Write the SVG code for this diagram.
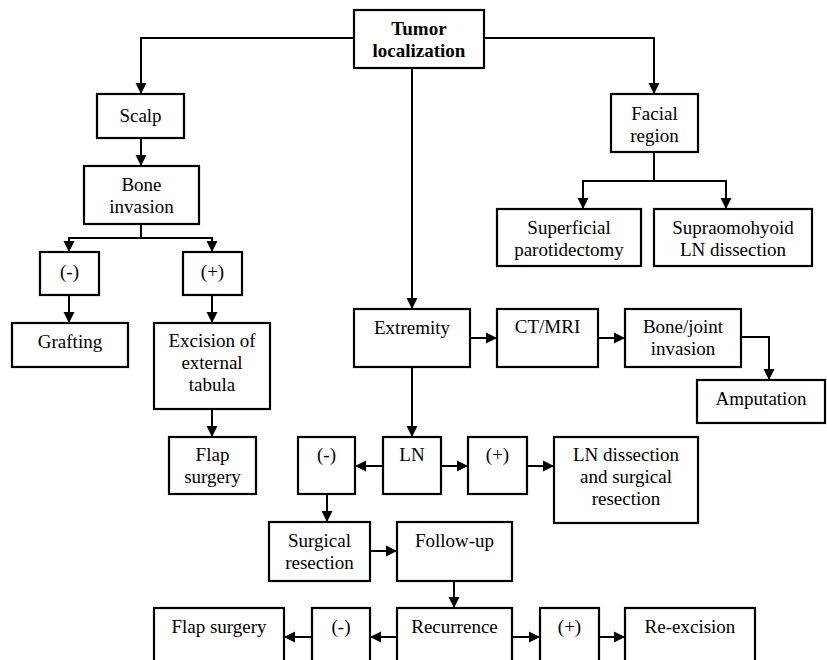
<svg xmlns="http://www.w3.org/2000/svg" width="827" height="660" viewBox="0 0 827 660" font-family="Liberation Serif, Times New Roman, Times, DejaVu Serif, serif">
<style>
.box{fill:#fff;stroke:#000;stroke-width:2.2}
text{font-family:"Liberation Serif","Times New Roman",Times,"DejaVu Serif",serif;font-size:19px;text-anchor:middle;fill:#000}
.b{font-weight:bold}
.c{fill:none;stroke:#000;stroke-width:2}
</style>
<defs>
<marker id="ah" markerUnits="userSpaceOnUse" markerWidth="12" markerHeight="12" refX="11" refY="6" orient="auto">
<path d="M0,0.5 L11,6 L0,11.5 z" fill="#000"/>
</marker>
</defs>
<rect width="827" height="660" fill="#fff"/>
<g id="connectors">
<polyline class="c" points="354,38 141,38 141,94" marker-end="url(#ah)"/>
<polyline class="c" points="484,38 654,38 654,94" marker-end="url(#ah)"/>
<line class="c" x1="412" y1="68" x2="412" y2="309" marker-end="url(#ah)"/>
<line class="c" x1="141" y1="138" x2="141" y2="166" marker-end="url(#ah)"/>
<line class="c" x1="141" y1="224" x2="141" y2="238"/>
<polyline class="c" points="69,252 69,238 212,238 212,252"/>
<line class="c" x1="69" y1="240" x2="69" y2="252" marker-end="url(#ah)"/>
<line class="c" x1="212" y1="240" x2="212" y2="252" marker-end="url(#ah)"/>
<line class="c" x1="69" y1="295" x2="69" y2="323" marker-end="url(#ah)"/>
<line class="c" x1="212" y1="295" x2="212" y2="323" marker-end="url(#ah)"/>
<line class="c" x1="212" y1="409" x2="212" y2="437" marker-end="url(#ah)"/>
<line class="c" x1="654" y1="152" x2="654" y2="181"/>
<polyline class="c" points="583,209 583,181 726,181 726,209"/>
<line class="c" x1="583" y1="190" x2="583" y2="209" marker-end="url(#ah)"/>
<line class="c" x1="726" y1="190" x2="726" y2="209" marker-end="url(#ah)"/>
<line class="c" x1="470" y1="338" x2="497" y2="338" marker-end="url(#ah)"/>
<line class="c" x1="598" y1="338" x2="625" y2="338" marker-end="url(#ah)"/>
<polyline class="c" points="741,337 769,337 769,380" marker-end="url(#ah)"/>
<line class="c" x1="412" y1="367" x2="412" y2="437" marker-end="url(#ah)"/>
<line class="c" x1="383" y1="466" x2="355" y2="466" marker-end="url(#ah)"/>
<line class="c" x1="441" y1="466" x2="468" y2="466" marker-end="url(#ah)"/>
<line class="c" x1="527" y1="466" x2="554" y2="466" marker-end="url(#ah)"/>
<line class="c" x1="327" y1="494" x2="327" y2="522" marker-end="url(#ah)"/>
<line class="c" x1="370" y1="551" x2="397" y2="551" marker-end="url(#ah)"/>
<line class="c" x1="454" y1="581" x2="454" y2="608" marker-end="url(#ah)"/>
<line class="c" x1="397" y1="637" x2="370" y2="637" marker-end="url(#ah)"/>
<line class="c" x1="312" y1="637" x2="284" y2="637" marker-end="url(#ah)"/>
<line class="c" x1="512" y1="637" x2="540" y2="637" marker-end="url(#ah)"/>
<line class="c" x1="599" y1="637" x2="625" y2="637" marker-end="url(#ah)"/>
</g>
<g id="tumor"><rect class="box" x="354" y="10" width="130" height="58"/><text class="b" x="419" y="34.5">Tumor</text><text class="b" x="419" y="56.5">localization</text></g>
<g id="scalp"><rect class="box" x="97" y="94" width="87" height="44"/><text x="140.5" y="122">Scalp</text></g>
<g id="bone-invasion"><rect class="box" x="84" y="166" width="115" height="58"/><text x="141.5" y="191">Bone</text><text x="141.5" y="213">invasion</text></g>
<g id="scalp-neg"><rect class="box" x="40" y="252" width="59" height="43"/><text x="69.5" y="278">(-)</text></g>
<g id="scalp-pos"><rect class="box" x="183" y="252" width="59" height="43"/><text x="212.5" y="278">(+)</text></g>
<g id="grafting"><rect class="box" x="12" y="323" width="116" height="44"/><text x="70" y="348">Grafting</text></g>
<g id="excision"><rect class="box" x="154" y="323" width="116" height="86"/><text x="212" y="347">Excision of</text><text x="212" y="369">external</text><text x="212" y="391">tabula</text></g>
<g id="flap-surgery-1"><rect class="box" x="169" y="437" width="87" height="57"/><text x="212.5" y="461">Flap</text><text x="212.5" y="483">surgery</text></g>
<g id="facial"><rect class="box" x="611" y="94" width="87" height="58"/><text x="654.5" y="120">Facial</text><text x="654.5" y="142">region</text></g>
<g id="superficial"><rect class="box" x="497" y="209" width="144" height="57"/><text x="569" y="234">Superficial</text><text x="569" y="256">parotidectomy</text></g>
<g id="supraomohyoid"><rect class="box" x="654" y="209" width="158" height="57"/><text x="733" y="234">Supraomohyoid</text><text x="733" y="256">LN dissection</text></g>
<g id="extremity"><rect class="box" x="354" y="309" width="116" height="58"/><text x="412" y="334">Extremity</text></g>
<g id="ctmri"><rect class="box" x="497" y="309" width="101" height="58"/><text x="547.5" y="333">CT/MRI</text></g>
<g id="bone-joint"><rect class="box" x="625" y="309" width="116" height="58"/><text x="683" y="333">Bone/joint</text><text x="683" y="355">invasion</text></g>
<g id="amputation"><rect class="box" x="697" y="380" width="128" height="43"/><text x="761" y="405">Amputation</text></g>
<g id="ln"><rect class="box" x="383" y="437" width="58" height="57"/><text x="412" y="461">LN</text></g>
<g id="ln-neg"><rect class="box" x="298" y="437" width="57" height="57"/><text x="326.5" y="461">(-)</text></g>
<g id="ln-pos"><rect class="box" x="468" y="437" width="59" height="57"/><text x="497.5" y="461">(+)</text></g>
<g id="ln-dissection"><rect class="box" x="554" y="437" width="144" height="86"/><text x="626" y="461">LN dissection</text><text x="626" y="483">and surgical</text><text x="626" y="505">resection</text></g>
<g id="surgical-resection"><rect class="box" x="269" y="522" width="101" height="59"/><text x="319.5" y="547">Surgical</text><text x="319.5" y="569">resection</text></g>
<g id="follow-up"><rect class="box" x="397" y="522" width="115" height="59"/><text x="454.5" y="547">Follow-up</text></g>
<g id="recurrence"><rect class="box" x="397" y="608" width="115" height="70"/><text x="454.5" y="633">Recurrence</text></g>
<g id="rec-neg"><rect class="box" x="312" y="608" width="58" height="70"/><text x="341" y="633">(-)</text></g>
<g id="flap-surgery-2"><rect class="box" x="154" y="608" width="130" height="70"/><text x="219" y="633">Flap surgery</text></g>
<g id="rec-pos"><rect class="box" x="540" y="608" width="59" height="70"/><text x="569.5" y="633">(+)</text></g>
<g id="re-excision"><rect class="box" x="625" y="608" width="130" height="70"/><text x="690" y="633">Re-excision</text></g>
</svg>
